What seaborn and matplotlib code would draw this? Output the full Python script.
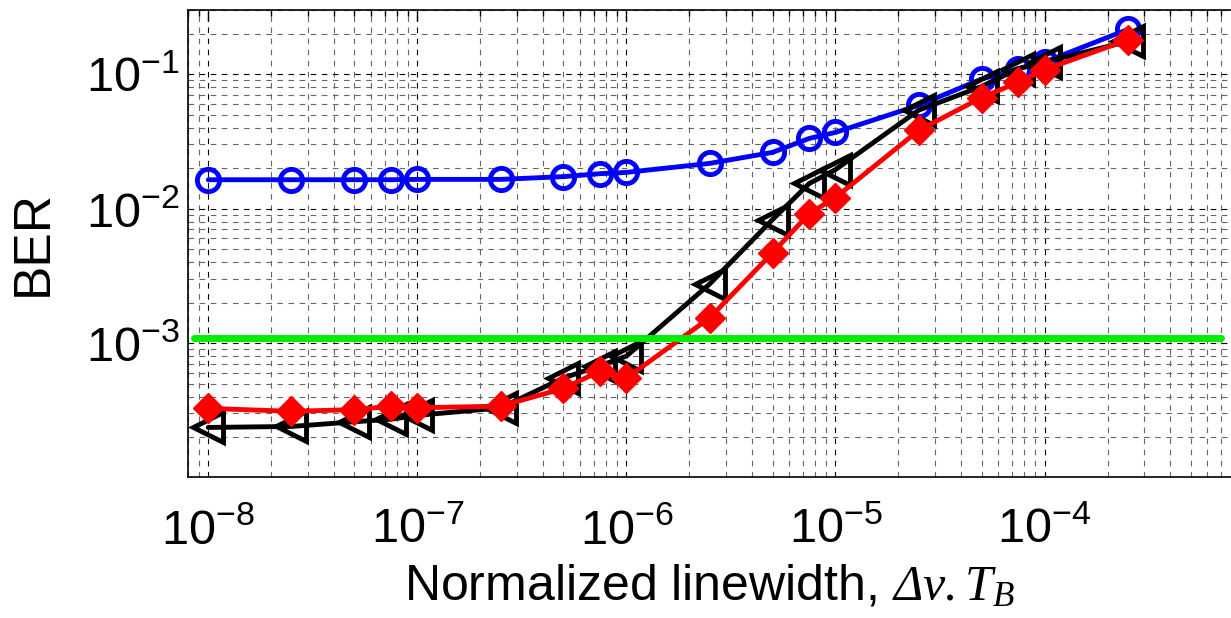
import matplotlib
matplotlib.use("Agg")
import matplotlib.pyplot as plt
import matplotlib.ticker as mticker
import seaborn as sns

# data
linewidth = [1e-8, 2.5e-8, 5e-8, 7.5e-8, 1e-7, 2.5e-7, 5e-7, 7.5e-7, 1e-6,
             2.5e-6, 5e-6, 7.5e-6, 1e-5, 2.5e-5, 5e-5, 7.5e-5, 1e-4, 2.5e-4]
ber_blue = [0.0164, 0.0164, 0.0164, 0.0164, 0.0165, 0.0165, 0.0173, 0.0182, 0.0186,
            0.0217, 0.0262, 0.0333, 0.0369, 0.0587, 0.092, 0.110, 0.123, 0.215]
ber_black = [2.36e-4, 2.4e-4, 2.6e-4, 2.72e-4, 2.9e-4, 3.3e-4, 5.5e-4, 6.8e-4, 8.0e-4,
             2.75e-3, 8.3e-3, 1.54e-2, 1.95e-2, 5.4e-2, 8.1e-2, 0.11, 0.123, 0.175]
ber_red = [3.27e-4, 3.11e-4, 3.2e-4, 3.39e-4, 3.3e-4, 3.4e-4, 4.6e-4, 6.2e-4, 5.5e-4,
           1.54e-3, 4.7e-3, 9.2e-3, 1.21e-2, 3.82e-2, 6.7e-2, 8.7e-2, 0.108, 0.18]
thr_x = [8.5e-9, 7e-4]
thr_y = [1.1e-3, 1.1e-3]

sns.set_theme(style="white")
plt.rcParams['font.family'] = ['Liberation Sans', 'DejaVu Sans']
plt.rcParams['text.color'] = 'black'
plt.rcParams['axes.labelcolor'] = 'black'
plt.rcParams['mathtext.fontset'] = 'custom'
plt.rcParams['mathtext.rm'] = 'Liberation Serif:italic'
plt.rcParams['mathtext.it'] = 'Liberation Serif:italic'
plt.rcParams['mathtext.default'] = 'regular'

fig = plt.figure(figsize=(12.31, 6.18), dpi=100)
ax = fig.add_axes([188 / 1231, 141 / 618, 1061 / 1231, 467 / 618])

sns.lineplot(x=linewidth, y=ber_blue, ax=ax, color='#0000ff', lw=3.5, marker='o',
             markersize=16, markerfacecolor='none', markeredgecolor='#0000ff',
             markeredgewidth=3.5, estimator=None, sort=False)
sns.lineplot(x=linewidth, y=ber_black, ax=ax, color='black', lw=3.5, marker='<',
             markersize=21, markerfacecolor='none', markeredgecolor='black',
             markeredgewidth=3.5, estimator=None, sort=False)
sns.lineplot(x=linewidth, y=ber_red, ax=ax, color='#ff0000', lw=3.5, marker='D',
             markersize=15, markerfacecolor='#ff0000', markeredgecolor='#ff0000',
             markeredgewidth=1, estimator=None, sort=False)
sns.lineplot(x=thr_x, y=thr_y, ax=ax, color='#00ee00', lw=5, estimator=None, sort=False)

ax.set_xscale('log')
ax.set_yscale('log')
ax.set_xlim(8e-9, 9.5e-4)
ax.set_ylim(1.01e-4, 0.3)

ax.xaxis.set_major_locator(mticker.LogLocator(base=10, numticks=20))
ax.xaxis.set_minor_locator(mticker.LogLocator(base=10, subs=range(2, 10), numticks=100))
ax.yaxis.set_major_locator(mticker.LogLocator(base=10, numticks=20))
ax.yaxis.set_minor_locator(mticker.LogLocator(base=10, subs=range(2, 10), numticks=100))
ax.xaxis.set_minor_formatter(mticker.NullFormatter())
ax.yaxis.set_minor_formatter(mticker.NullFormatter())

ax.grid(which='major', color='black', ls=(0, (5, 5)), lw=0.8)
ax.grid(which='minor', color='0.4', ls=(0, (5, 5)), lw=0.8)
ax.set_axisbelow(True)

ax.tick_params(which='both', direction='in', top=True, right=True, labelsize=35,
               colors='black')
ax.tick_params(which='major', length=8, width=1)
ax.tick_params(which='minor', length=4, width=1)
ax.tick_params(axis='x', pad=22)
ax.tick_params(axis='y', pad=6)
for s in ax.spines.values():
    s.set_color('black')
    s.set_linewidth(1.2)

ax.set_ylabel('BER', fontsize=37)
ax.yaxis.set_label_coords(-0.123, 0.5)
ax.set_xlabel(r'Normalized linewidth, $\mathrm{\Delta\nu.T_B}$', fontsize=36)
ax.xaxis.set_label_coords(0.4916, -0.185)

fig.savefig('out.png', dpi=100)
